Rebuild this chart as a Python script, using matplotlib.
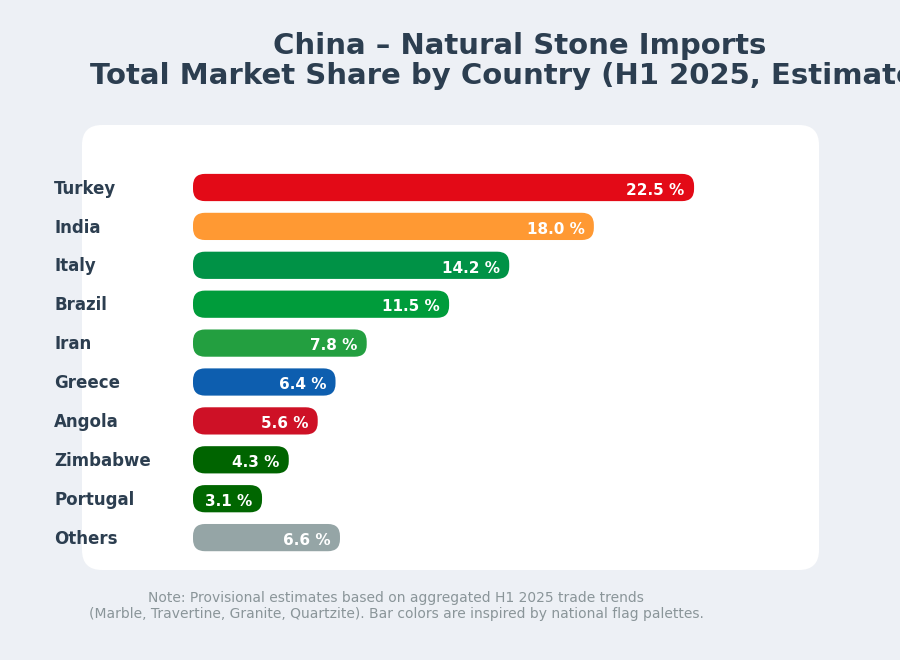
import matplotlib
matplotlib.use("Agg")
import matplotlib.pyplot as plt
from matplotlib.patches import FancyBboxPatch
import matplotlib.transforms as mtransforms

plt.rcParams["font.family"] = ["DejaVu Sans"]

countries = ["Turkey", "India", "Italy", "Brazil", "Iran", "Greece",
             "Angola", "Zimbabwe", "Portugal", "Others"]
shares = [22.5, 18.0, 14.2, 11.5, 7.8, 6.4, 5.6, 4.3, 3.1, 6.6]
colors = ["#E30A17", "#FF9933", "#009246", "#009C3B", "#239F40",
          "#0D5EAF", "#CE1126", "#006400", "#006600", "#95A5A6"]
value_labels = [f"{v:.1f} %" for v in shares]

title_lines = ["China – Natural Stone Imports",
               "Total Market Share by Country (H1 2025, Estimated)"]
note = ("Note: Provisional estimates based on aggregated H1 2025 trade trends\n"
        "(Marble, Travertine, Granite, Quartzite). Bar colors are inspired by national flag palettes.")

W, H = 900, 660
BG = "#edf0f5"
DARK = "#2c3e50"

fig = plt.figure(figsize=(W / 100, H / 100), dpi=100, facecolor=BG)

# background axes in pixel units
bg = fig.add_axes([0, 0, 1, 1], zorder=0)
bg.set_xlim(0, W)
bg.set_ylim(H, 0)
bg.axis("off")
panel = FancyBboxPatch((82, 125), 737, 445,
                       boxstyle="round,pad=0,rounding_size=20",
                       facecolor="white", edgecolor="none")
bg.add_patch(panel)

# bar axes
px_per_unit_x = 22.27
px_per_cat = 38.9
left_px = 193
xmax = 25.0
top_px = 187.5 - px_per_cat / 2
bottom_px = 187.5 + px_per_cat * 9 + px_per_cat / 2
ax = fig.add_axes([left_px / W, 1 - bottom_px / H,
                   xmax * px_per_unit_x / W, (bottom_px - top_px) / H], zorder=1)
ax.patch.set_alpha(0)
ax.set_xlim(0, xmax)
ax.set_ylim(len(countries) - 0.5, -0.5)
ax.axis("off")

bar_h = 0.7
aspect = px_per_unit_x / px_per_cat
radius_px = 12
for i, (c, v, col, lab) in enumerate(zip(countries, shares, colors, value_labels)):
    p = FancyBboxPatch((0, i - bar_h / 2), v, bar_h,
                       boxstyle=f"round,pad=0,rounding_size={radius_px / px_per_unit_x}",
                       mutation_aspect=aspect,
                       facecolor=col, edgecolor="none")
    ax.add_patch(p)
    ax.text(v - 0.42, i + 0.07, lab, ha="right", va="center", color="white",
            fontsize=11, fontweight="bold")

trans = mtransforms.blended_transform_factory(fig.transFigure, ax.transData)
for i, c in enumerate(countries):
    ax.text(54 / W, i + 0.03, c, transform=trans, ha="left", va="center",
            fontsize=12, fontweight="bold", color=DARK)

for k, (line, base_px) in enumerate(zip(title_lines, [54, 84])):
    fig.text(519.5 / W, 1 - base_px / H, line, ha="center", va="baseline",
             fontsize=21, fontweight="bold", color=DARK)

fig.text(396 / W, 1 - 606 / H, note, ha="center", va="center",
         fontsize=10, color="#8a9599", linespacing=1.2)

fig.savefig("out.png", dpi=100, facecolor=BG)
